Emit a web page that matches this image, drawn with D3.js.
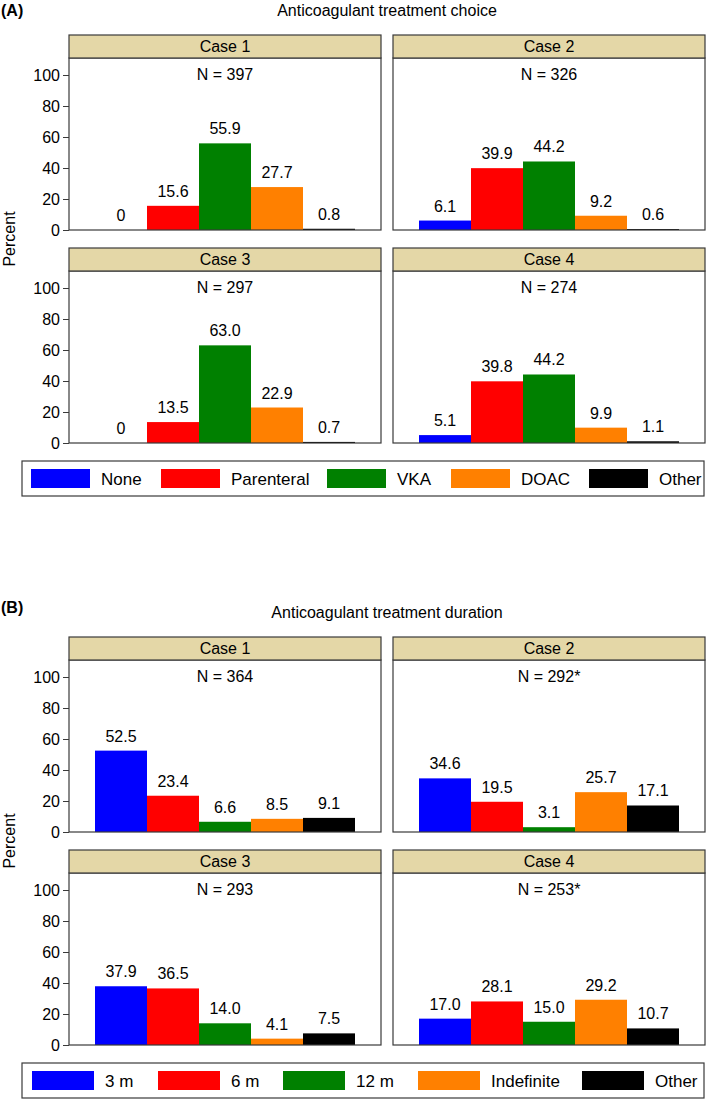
<!DOCTYPE html>
<html>
<head>
<meta charset="utf-8">
<script src="https://cdn.jsdelivr.net/npm/d3@7"></script>
<style>
  html, body { margin: 0; padding: 0; background: #fff; }
  svg { display: block; font-family: "Liberation Sans", Arial, Helvetica, sans-serif; }
</style>
</head>
<body>
<svg id="chart" width="709" height="1099"></svg>
<script>
// ---------- data ----------
const cases = ["Case 1", "Case 2", "Case 3", "Case 4"];
const yTicks = [0, 20, 40, 60, 80, 100];

const choiceCategories = ["None", "Parenteral", "VKA", "DOAC", "Other"];
const choiceN = ["N = 397", "N = 326", "N = 297", "N = 274"];
const choiceCase1 = [0, 15.6, 55.9, 27.7, 0.8];
const choiceCase2 = [6.1, 39.9, 44.2, 9.2, 0.6];
const choiceCase3 = [0, 13.5, 63.0, 22.9, 0.7];
const choiceCase4 = [5.1, 39.8, 44.2, 9.9, 1.1];

const durationCategories = ["3 m", "6 m", "12 m", "Indefinite", "Other"];
const durationN = ["N = 364", "N = 292*", "N = 293", "N = 253*"];
const durationCase1 = [52.5, 23.4, 6.6, 8.5, 9.1];
const durationCase2 = [34.6, 19.5, 3.1, 25.7, 17.1];
const durationCase3 = [37.9, 36.5, 14.0, 4.1, 7.5];
const durationCase4 = [17.0, 28.1, 15.0, 29.2, 10.7];

const barColors = ["#0000ff", "#ff0000", "#008000", "#ff8000", "#000000"];

// ---------- layout ----------
const sections = [
  { tag: "(A)", title: "Anticoagulant treatment choice", oy: 0, tagY: 16, titleY: 16,
    cats: choiceCategories, ns: choiceN,
    values: [choiceCase1, choiceCase2, choiceCase3, choiceCase4],
    legendX: [31, 161, 327, 451, 589], swW: 59 },
  { tag: "(B)", title: "Anticoagulant treatment duration", oy: 602, tagY: 11, titleY: 16,
    cats: durationCategories, ns: durationN,
    values: [durationCase1, durationCase2, durationCase3, durationCase4],
    legendX: [32, 158, 283, 418, 582], swW: 62 }
];

const colX = [69, 393];
const panelW = 312;
const rowTop = [35, 248];
const headerH = 23;
const zeroOff = 195;      // panel top -> zero line
const hundredOff = 40;    // panel top -> 100 line
const fontSize = 16;
const legendFont = 17;
const stroke = "#3a3a3a";
const stripFill = "#e4d7a7";

const svg = d3.select("#chart");

sections.forEach(sec => {
  const g = svg.append("g").attr("transform", `translate(0,${sec.oy})`);

  g.append("text").attr("x", 1).attr("y", sec.tagY)
    .attr("font-size", fontSize).attr("font-weight", "bold").text(sec.tag);
  g.append("text").attr("x", (colX[0] + colX[1] + panelW) / 2).attr("y", sec.titleY)
    .attr("text-anchor", "middle").attr("font-size", fontSize).text(sec.title);

  // y label
  const midY = (rowTop[0] + rowTop[1] + zeroOff) / 2;
  g.append("text").attr("transform", `translate(15,${midY}) rotate(-90)`)
    .attr("text-anchor", "middle").attr("font-size", fontSize).text("Percent");

  const x = d3.scaleBand().domain(sec.cats).range([0, panelW]).paddingInner(0).paddingOuter(0.5);

  cases.forEach((cname, i) => {
    const r = Math.floor(i / 2), c = i % 2;
    const top = rowTop[r];
    const px = colX[c];
    const y = d3.scaleLinear().domain([0, 100]).range([top + zeroOff, top + hundredOff]);
    const pg = g.append("g").attr("transform", `translate(${px},0)`);

    pg.append("rect").attr("x", 0).attr("y", top + headerH).attr("width", panelW)
      .attr("height", zeroOff - headerH).attr("fill", "#fff");

    const vals = sec.values[i];
    pg.selectAll("rect.bar").data(vals).enter().append("rect")
      .attr("class", "bar")
      .attr("x", (d, j) => x(sec.cats[j]))
      .attr("width", x.bandwidth())
      .attr("y", d => y(d))
      .attr("height", d => y(0) - y(d))
      .attr("fill", (d, j) => barColors[j]);

    pg.selectAll("text.val").data(vals).enter().append("text")
      .attr("class", "val")
      .attr("x", (d, j) => x(sec.cats[j]) + x.bandwidth() / 2)
      .attr("y", d => y(d) - 9)
      .attr("text-anchor", "middle").attr("font-size", fontSize)
      .text(d => d === 0 ? "0" : d.toFixed(1));

    pg.append("text").attr("x", panelW / 2).attr("y", top + headerH + 22)
      .attr("text-anchor", "middle").attr("font-size", fontSize).text(sec.ns[i]);

    pg.append("rect").attr("x", 0).attr("y", top + headerH).attr("width", panelW)
      .attr("height", zeroOff - headerH).attr("fill", "none")
      .attr("stroke", stroke).attr("stroke-width", 1.2);

    pg.append("rect").attr("x", 0).attr("y", top).attr("width", panelW).attr("height", headerH)
      .attr("fill", stripFill).attr("stroke", stroke).attr("stroke-width", 1.2);
    pg.append("text").attr("x", panelW / 2).attr("y", top + 17)
      .attr("text-anchor", "middle").attr("font-size", fontSize).text(cname);

    if (c === 0) {
      const ax = pg.append("g").call(d3.axisLeft(y).tickValues(yTicks).tickSize(6).tickPadding(3));
      ax.select(".domain").remove();
      ax.selectAll("line").attr("stroke", stroke);
      ax.selectAll("text").attr("font-size", fontSize).attr("font-family", "Liberation Sans, Arial, sans-serif").attr("fill", "#000");
    }
  });

  // legend
  const lg = g.append("g");
  lg.append("rect").attr("x", 22).attr("y", 461).attr("width", 682).attr("height", 35)
    .attr("fill", "#fff").attr("stroke", stroke).attr("stroke-width", 1.2);
  sec.cats.forEach((cat, j) => {
    const lx = sec.legendX[j];
    lg.append("rect").attr("x", lx).attr("y", 469).attr("width", sec.swW).attr("height", 19)
      .attr("fill", barColors[j]);
    lg.append("text").attr("x", lx + sec.swW + 11).attr("y", 485)
      .attr("font-size", legendFont).text(cat);
  });
});
</script>
</body>
</html>
